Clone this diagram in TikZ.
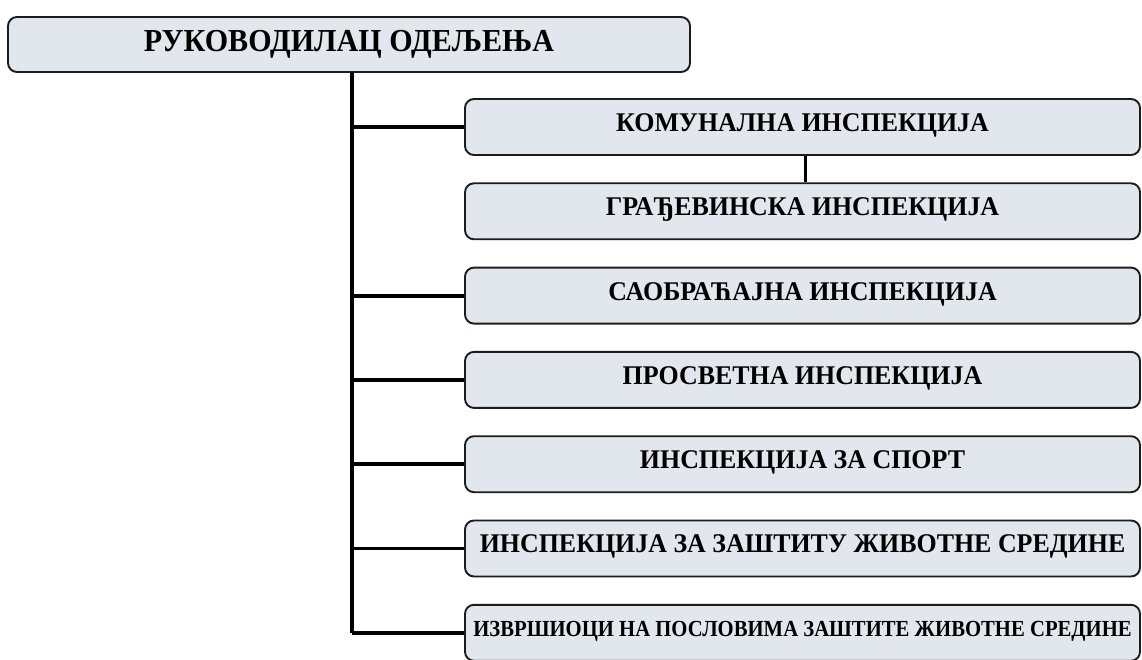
\documentclass[tikz,border=0pt]{standalone}
\usepackage{fontspec}
\setmainfont{Liberation Serif}
\usetikzlibrary{calc}
\definecolor{boxfill}{RGB}{226,230,237}
\definecolor{edge}{RGB}{28,28,28}
\tikzset{
  orgbox/.style={draw=edge, line width=1.9pt, rounded corners=9pt, fill=boxfill,
    inner sep=0pt, minimum height=56pt, minimum width=675pt,
    font=\bfseries\fontsize{27}{27}\selectfont},
  headbox/.style={orgbox, minimum width=682pt, minimum height=55pt,
    font=\bfseries\fontsize{32}{32}\selectfont},
  trunkline/.style={draw=black, line width=4.4pt},
  branchline/.style={draw=black, line width=3.8pt}
}
\newcommand{\up}[3]{\raisebox{#1pt}{\scalebox{#2}[1]{#3}}}
\begin{document}
\begin{tikzpicture}[x=1pt,y=-1pt]
\useasboundingbox[fill=white] (0,0) rectangle (1142,660);
% head
\node[headbox] (head) at (349,44.5) {\up{3}{0.94}{РУКОВОДИЛАЦ ОДЕЉЕЊА}};
% children
\node[orgbox] (b1) at (802.5,127)   {\up{9}{0.96}{КОМУНАЛНА ИНСПЕКЦИЈА}};
\node[orgbox] (b2) at (802.5,211.3) {\up{9}{0.96}{ГРАЂЕВИНСКА ИНСПЕКЦИЈА}};
\node[orgbox] (b3) at (802.5,295.6) {\up{9}{0.96}{САОБРАЋАЈНА ИНСПЕКЦИЈА}};
\node[orgbox] (b4) at (802.5,379.9) {\up{9}{0.96}{ПРОСВЕТНА ИНСПЕКЦИЈА}};
\node[orgbox] (b5) at (802.5,464.2) {\up{9}{0.96}{ИНСПЕКЦИЈА ЗА СПОРТ}};
\node[orgbox] (b6) at (802.5,548.5) {\up{9}{0.96}{ИНСПЕКЦИЈА ЗА ЗАШТИТУ ЖИВОТНЕ СРЕДИНЕ}};
\node[orgbox,font=\bfseries\fontsize{23}{23}\selectfont] (b7) at (802.5,632.8)
  {\up{8}{0.90}{ИЗВРШИОЦИ НА ПОСЛОВИМА ЗАШТИТЕ ЖИВОТНЕ СРЕДИНЕ}};
% connectors
\coordinate (t) at (352,72);
\draw[trunkline] (t) -- (t |- b7.west);
\draw[branchline] (t |- b1.west) -- (b1.west);
\draw[branchline] (t |- b3.west) -- (b3.west);
\draw[branchline] (t |- b4.west) -- (b4.west);
\draw[branchline] (t |- b5.west) -- (b5.west);
\draw[branchline] (t |- b6.west) -- (b6.west);
\draw[branchline] (t |- b7.west) -- (b7.west);
\draw[branchline] ($(b1.south)+(3,0)$) -- ($(b2.north)+(3,0)$);
\end{tikzpicture}
\end{document}
